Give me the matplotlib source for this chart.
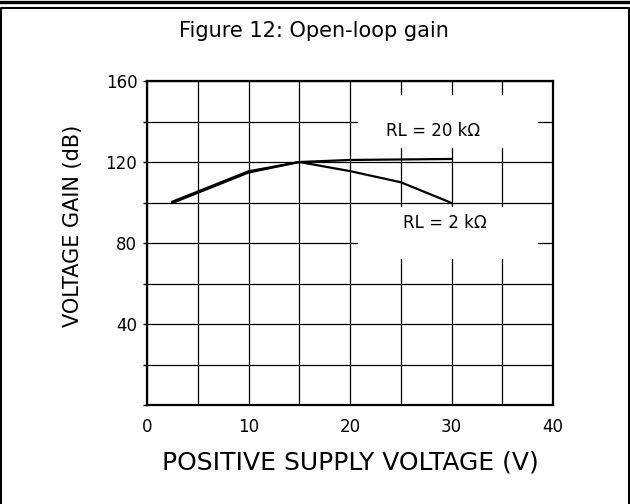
import matplotlib
matplotlib.use('Agg')
import matplotlib.pyplot as plt
from matplotlib.lines import Line2D
from matplotlib.patches import Rectangle
from matplotlib.ticker import MultipleLocator, NullFormatter

# values
supply_20k = [2.5, 10, 15, 20, 30]
gain_20k = [100.4, 115.4, 120, 121, 121.5]
supply_2k = [2.5, 10, 15, 20, 25, 30]
gain_2k = [99.8, 114.8, 120, 115.5, 110, 99.8]

x_ticks = [0, 10, 20, 30, 40]
y_ticks = [40, 80, 120, 160]

title = 'Figure 12: Open-loop gain'
x_title = 'POSITIVE SUPPLY VOLTAGE (V)'
y_title = 'VOLTAGE GAIN (dB)'
label_20k = 'RL = 20 k\u03a9'
label_2k = 'RL = 2 k\u03a9'

W, H = 630, 504
fig = plt.figure(figsize=(W / 100, H / 100), dpi=100)
plt.rcParams['font.family'] = ['DejaVu Sans']

# plot area in pixels: x 147..553, y 81..405
ax = fig.add_axes([147 / W, 1 - 405 / H, 406 / W, 324 / H])
ax.set_xlim(0, 40)
ax.set_ylim(0, 160)

ax.set_xticks(x_ticks)
ax.xaxis.set_minor_locator(MultipleLocator(5))
ax.set_yticks(y_ticks)
ax.yaxis.set_minor_locator(MultipleLocator(20))
ax.yaxis.set_minor_formatter(NullFormatter())

ax.tick_params(axis='x', which='both', length=0, pad=9, labelsize=12)
ax.tick_params(axis='y', which='both', length=3, width=1, direction='out',
               pad=4, labelsize=12)

ax.grid(True, which='both', color='black', linewidth=0.9)
ax.set_axisbelow(True)
for s in ax.spines.values():
    s.set_linewidth(1.6)

# white patches behind the curve labels (they cut the grid)
ax.add_patch(Rectangle((20.8, 127), 17.7, 26, facecolor='white',
                       edgecolor='none', zorder=1))
ax.add_patch(Rectangle((20.8, 72), 17.7, 25.8, facecolor='white',
                       edgecolor='none', zorder=1))

ax.plot(supply_20k, gain_20k, color='black', linewidth=1.6, zorder=3,
        solid_joinstyle='round')
ax.plot(supply_2k, gain_2k, color='black', linewidth=1.6, zorder=3,
        solid_joinstyle='round')

ax.text(28.2, 135.5, label_20k, fontsize=12, ha='center', va='center', zorder=4)
ax.text(29.3, 90, label_2k, fontsize=12, ha='center', va='center', zorder=4)

ax.set_xlabel(x_title, fontsize=18)
ax.xaxis.set_label_coords(0.5, -0.14)
ax.set_ylabel(y_title, fontsize=15)
ax.yaxis.set_label_coords(-0.158, 0.552)

fig.text(313.5 / W, 1 - 37 / H, title, fontsize=15, ha='center', va='baseline')

# page frame around the figure
x0, x1, top = 0.7 / W, 629.3 / W, 1 - 8 / H
fig.add_artist(Line2D([0, 1], [1 - 1.5 / H, 1 - 1.5 / H], color='black',
                      linewidth=2.4, transform=fig.transFigure))
fig.add_artist(Line2D([x0, x0, x1, x1], [0, top, top, 0], color='black',
                      linewidth=1.5, transform=fig.transFigure))

fig.savefig('out.png', dpi=100)
